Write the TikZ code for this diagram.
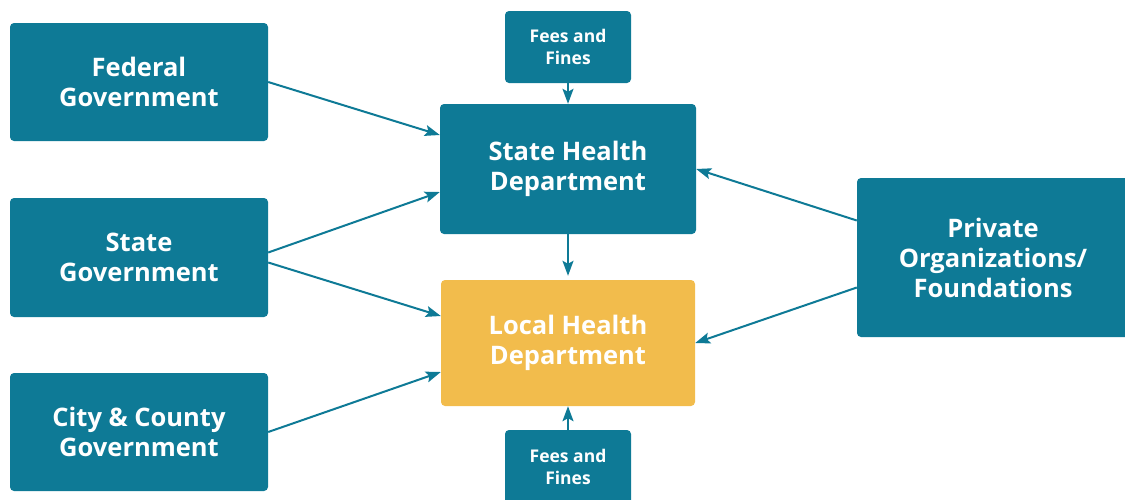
\documentclass[tikz,border=0pt]{standalone}
\usepackage{fontspec}
\setmainfont{Open Sans}
\usetikzlibrary{arrows.meta}
\definecolor{teal}{HTML}{0E7A96}
\definecolor{gold}{HTML}{F2BC4C}
\begin{document}
\begin{tikzpicture}[x=1pt,y=-1pt,
  box/.style={rectangle,rounded corners=4pt,fill=teal,text=white,align=center,
    font=\bfseries\fontsize{25.5}{30}\selectfont,inner sep=0pt},
  fees/.style={box,font=\bfseries\fontsize{17.5}{21.5}\selectfont,
    minimum width=126pt,minimum height=72pt},
  link/.style={draw=teal,line width=2pt,-{Stealth[length=15pt,width=11pt,inset=3pt]}}]
  \useasboundingbox (0,0) rectangle (1125,499);
  \node[box,minimum width=258pt,minimum height=118pt] (fed) at (139,82) {Federal\\Government};
  \node[box,minimum width=258pt,minimum height=119pt] (st) at (139,257.5) {State\\Government};
  \node[box,minimum width=258pt,minimum height=118pt] (city) at (139,432) {City \& County\\Government};
  \node[fees] (feestop) at (568,47) {Fees and\\Fines};
  \node[box,minimum width=256pt,minimum height=130pt] (shd) at (568,169) {State Health\\Department};
  \node[box,fill=gold,minimum width=254pt,minimum height=126pt] (lhd) at (568,343) {Local Health\\Department};
  \node[fees,minimum height=74pt] (feesbot) at (568,467) {Fees and\\Fines};
  \node[box,minimum width=272pt,minimum height=159pt] (priv) at (993,257.5) {Private\\Organizations/\\Foundations};

  \draw[link] (fed.east) -- ([yshift=34pt]shd.west);
  \draw[link] ([yshift=5pt]st.east) -- ([yshift=-23pt]shd.west);
  \draw[link] ([yshift=-5pt]st.east) -- ([yshift=27pt]lhd.west);
  \draw[link] (city.east) -- ([yshift=-29pt]lhd.west);
  \draw[link] ([yshift=37pt]priv.west) -- (shd.east);
  \draw[link] ([yshift=-30pt]priv.west) -- (lhd.east);
  \draw[link] (shd.south) -- ([yshift=4pt]lhd.north);
  \draw[link] (feestop.south) -- (shd.north);
  \draw[link] (feesbot.north) -- (lhd.south);
\end{tikzpicture}
\end{document}
